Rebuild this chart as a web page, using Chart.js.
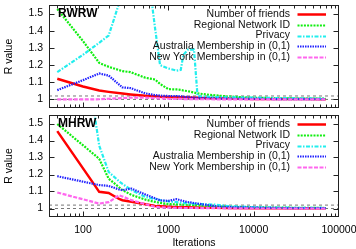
<!DOCTYPE html>
<html>
<head>
<meta charset="utf-8">
<script src="https://cdn.jsdelivr.net/npm/chart.js@4.4.0/dist/chart.umd.min.js"></script>
<style>
  html, body { margin: 0; padding: 0; background: #fff; }
  #top { position: absolute; left: 0; top: 0; }
  #bot { position: absolute; left: 0; top: 112px; }
</style>
</head>
<body>
<canvas id="top" width="356" height="112"></canvas>
<canvas id="bot" width="356" height="137"></canvas>
<script>
// series names, shared by both panels
var seriesNames = ['Number of friends', 'Regional Network ID', 'Privacy',
                   'Australia Membership in (0,1)', 'New York Membership in (0,1)'];

// RWRW panel
var rwrwIter = [50, 100, 155, 200, 290, 360, 540, 700, 800, 1000, 1250, 1400, 1500, 1700, 2000, 2200, 3000, 5000, 10000, 20000, 40000, 70000];
var rwrwFriends   = [1.12, 1.075, 1.052, 1.044, 1.034, 1.029, 1.021, 1.018, 1.016, 1.014, 1.013, 1.012, 1.012, 1.011, 1.010, 1.009, 1.007, 1.005, 1.003, 1.002, 1.002, 1.001];
var rwrwRegional  = [1.527, 1.34, 1.213, 1.19, 1.165, 1.159, 1.126, 1.116, 1.09, 1.06, 1.058, 1.055, 1.052, 1.048, 1.04, 1.035, 1.027, 1.017, 1.01, 1.007, 1.005, 1.004];
var rwrwPrivacy   = [1.159, 1.26, 1.33, 1.372, 1.62, 1.75, 1.855, 1.414, 1.20, 1.18, 1.168, 1.172, 1.26, 1.29, 1.29, 1.02, 1.015, 1.012, 1.01, 1.008, 1.006, 1.005];
var rwrwAustralia = [1.054, 1.112, 1.151, 1.139, 1.07, 1.066, 1.035, 1.025, 1.022, 1.02, 1.02, 1.018, 1.016, 1.014, 1.01, 1.009, 1.006, 1.004, 1.003, 1.002, 1.002, 1.002];
var rwrwNewYork   = [1.0, 1.0, 1.001, 1.004, 1.008, 1.01, 1.01, 1.008, 1.006, 1.004, 1.003, 1.003, 1.002, 1.002, 1.002, 1.001, 1.001, 1.0, 1.0, 1.0, 1.0, 1.0];

// MHRW panel
var mhrwIter = [50, 135, 155, 200, 265, 290, 370, 540, 700, 800, 1000, 1250, 1600, 2000, 3700, 5000, 10000, 20000, 40000, 70000];
var mhrwFriends   = [1.455, 1.142, 1.098, 1.091, 1.056, 1.049, 1.04, 1.025, 1.015, 1.013, 1.01, 1.008, 1.007, 1.006, 1.004, 1.003, 1.002, 1.001, 1.001, 1.001];
var mhrwRegional  = [1.497, 1.318, 1.292, 1.175, 1.125, 1.108, 1.08, 1.052, 1.039, 1.033, 1.026, 1.024, 1.022, 1.02, 1.012, 1.01, 1.007, 1.005, 1.004, 1.003];
var mhrwPrivacy   = [3.0, 1.573, 1.37, 1.215, 1.16, 1.145, 1.108, 1.068, 1.055, 1.049, 1.042, 1.037, 1.032, 1.028, 1.022, 1.014, 1.008, 1.005, 1.004, 1.003];
var mhrwAustralia = [1.19, 1.144, 1.138, 1.133, 1.112, 1.108, 1.117, 1.082, 1.06, 1.048, 1.045, 1.055, 1.04, 1.032, 1.012, 1.008, 1.005, 1.003, 1.002, 1.002];
var mhrwNewYork   = [1.094, 1.037, 1.029, 1.037, 1.078, 1.071, 1.049, 1.025, 1.01, 1.007, 1.005, 1.004, 1.003, 1.003, 1.002, 1.001, 1.0, 1.0, 1.0, 1.0];

// dashed reference levels and axis ticks
var refLevels = [1.0, 1.02];
var yTicks = [1, 1.1, 1.2, 1.3, 1.4, 1.5];
var xLabels = [100, 1000, 10000, 100000];

var colors = ['#ff0000', '#11ee11', '#22eeee', '#2222ff', '#ff66ee'];
var dashes = [[], [2, 1.2], [4, 1.5, 1.5, 1.5], [1.5, 1], [4, 1.5]];
var widths = [2.5, 2.2, 2.2, 2.2, 2.2];

var FONT = '"Liberation Sans", Arial, sans-serif';

function pts(xs, ys) {
  return xs.map(function (x, i) { return { x: x, y: ys[i] }; });
}

function isDecade(v) {
  var l = Math.log10(v);
  return Math.abs(l - Math.round(l)) < 1e-6;
}

// border, inward ticks, panel name and legend, gnuplot style
var gnuDeco = {
  id: 'gnuDeco',
  afterDraw: function (chart) {
    var ctx = chart.ctx, a = chart.chartArea;
    var xs = chart.scales.x, ys = chart.scales.y;
    var L = Math.round(a.left) + 0.5, R = Math.round(a.right) - 0.5;
    var T = Math.round(a.top) + 0.5, B = Math.round(a.bottom) - 0.5;
    ctx.save();
    ctx.strokeStyle = '#222';
    ctx.lineWidth = 1;
    ctx.setLineDash([]);
    ctx.beginPath();
    xs.ticks.forEach(function (t) {
      var px = Math.round(xs.getPixelForValue(t.value)) + 0.5;
      if (px < L || px > R) return;
      var len = isDecade(t.value) ? 5 : 3;
      ctx.moveTo(px, B); ctx.lineTo(px, B - len);
      ctx.moveTo(px, T); ctx.lineTo(px, T + len);
    });
    yTicks.forEach(function (v) {
      var py = Math.round(ys.getPixelForValue(v)) + 0.5;
      ctx.moveTo(L, py); ctx.lineTo(L + 5, py);
      ctx.moveTo(R, py); ctx.lineTo(R - 5, py);
    });
    ctx.stroke();
    ctx.strokeRect(L, T, R - L, B - T);

    var o = chart.options.plugins.gnuDeco;
    ctx.fillStyle = '#000';
    ctx.font = 'bold 12px ' + FONT;
    ctx.textAlign = 'left';
    ctx.textBaseline = 'middle';
    ctx.fillText(o.name, a.left + 9, a.top + 9);

    ctx.font = '10.5px ' + FONT;
    ctx.textAlign = 'right';
    chart.data.datasets.forEach(function (ds, i) {
      if (ds.noLegend) return;
      var y = a.top + 9 + i * 10.8;
      ctx.fillStyle = '#111';
      ctx.fillText(ds.label, a.right - 49, y);
      ctx.strokeStyle = ds.borderColor;
      ctx.lineWidth = ds.borderWidth;
      ctx.setLineDash(ds.borderDash);
      ctx.beginPath();
      ctx.moveTo(a.right - 41.5, Math.round(y) + 0.5);
      ctx.lineTo(a.right - 13, Math.round(y) + 0.5);
      ctx.stroke();
    });
    ctx.restore();
  }
};

function makePanel(id, name, iters, values, showX) {
  var datasets = values.map(function (vals, i) {
    return {
      label: seriesNames[i],
      data: pts(iters, vals),
      borderColor: colors[i],
      borderWidth: widths[i],
      borderDash: dashes[i],
      pointRadius: 0,
      tension: 0,
      order: 5 - i
    };
  });
  refLevels.forEach(function (lv) {
    datasets.push({
      label: 'ref',
      noLegend: true,
      data: pts([40, 100000], [lv, lv]),
      borderColor: '#777',
      borderWidth: 1,
      borderDash: [3, 3],
      pointRadius: 0,
      order: 10
    });
  });

  return new Chart(document.getElementById(id), {
    type: 'line',
    data: { datasets: datasets },
    options: {
      responsive: false,
      animation: false,
      layout: { padding: { top: showX ? 3 : 5, right: 17, bottom: showX ? 0 : 4, left: 0 } },
      plugins: { legend: { display: false }, tooltip: { enabled: false }, gnuDeco: { name: name } },
      scales: {
        x: {
          type: 'logarithmic',
          min: 40,
          max: 100000,
          grid: { display: false, drawTicks: false },
          border: { display: false },
          ticks: {
            display: showX,
            autoSkip: false,
            maxRotation: 0,
            padding: 7,
            color: '#000',
            font: { family: FONT, size: 10.5 },
            callback: function (v) { return xLabels.indexOf(v) >= 0 ? String(v) : ''; }
          },
          title: {
            display: showX,
            text: 'Iterations',
            color: '#000',
            font: { family: FONT, size: 10.5 },
            padding: { top: 0, bottom: 0 }
          },
          afterFit: function (s) {
            s.height = showX ? 32 : 0;
            s.paddingLeft = 0;
            s.paddingRight = 0;
          }
        },
        y: {
          min: 0.95,
          max: 1.55,
          grid: { display: false, drawTicks: false },
          border: { display: false },
          afterBuildTicks: function (s) {
            s.ticks = yTicks.map(function (v) { return { value: v }; });
          },
          ticks: {
            padding: 6,
            color: '#000',
            font: { family: FONT, size: 10.5 },
            callback: function (v) { return String(v); }
          },
          title: {
            display: true,
            text: 'R value',
            color: '#000',
            font: { family: FONT, size: 10.5 },
            padding: { top: 3, bottom: 0 }
          },
          afterFit: function (s) {
            s.width = 49;
            s.paddingTop = 0;
            s.paddingBottom = 0;
          }
        }
      }
    },
    plugins: [gnuDeco]
  });
}

makePanel('top', 'RWRW', rwrwIter,
  [rwrwFriends, rwrwRegional, rwrwPrivacy, rwrwAustralia, rwrwNewYork], false);
makePanel('bot', 'MHRW', mhrwIter,
  [mhrwFriends, mhrwRegional, mhrwPrivacy, mhrwAustralia, mhrwNewYork], true);
</script>
</body>
</html>
